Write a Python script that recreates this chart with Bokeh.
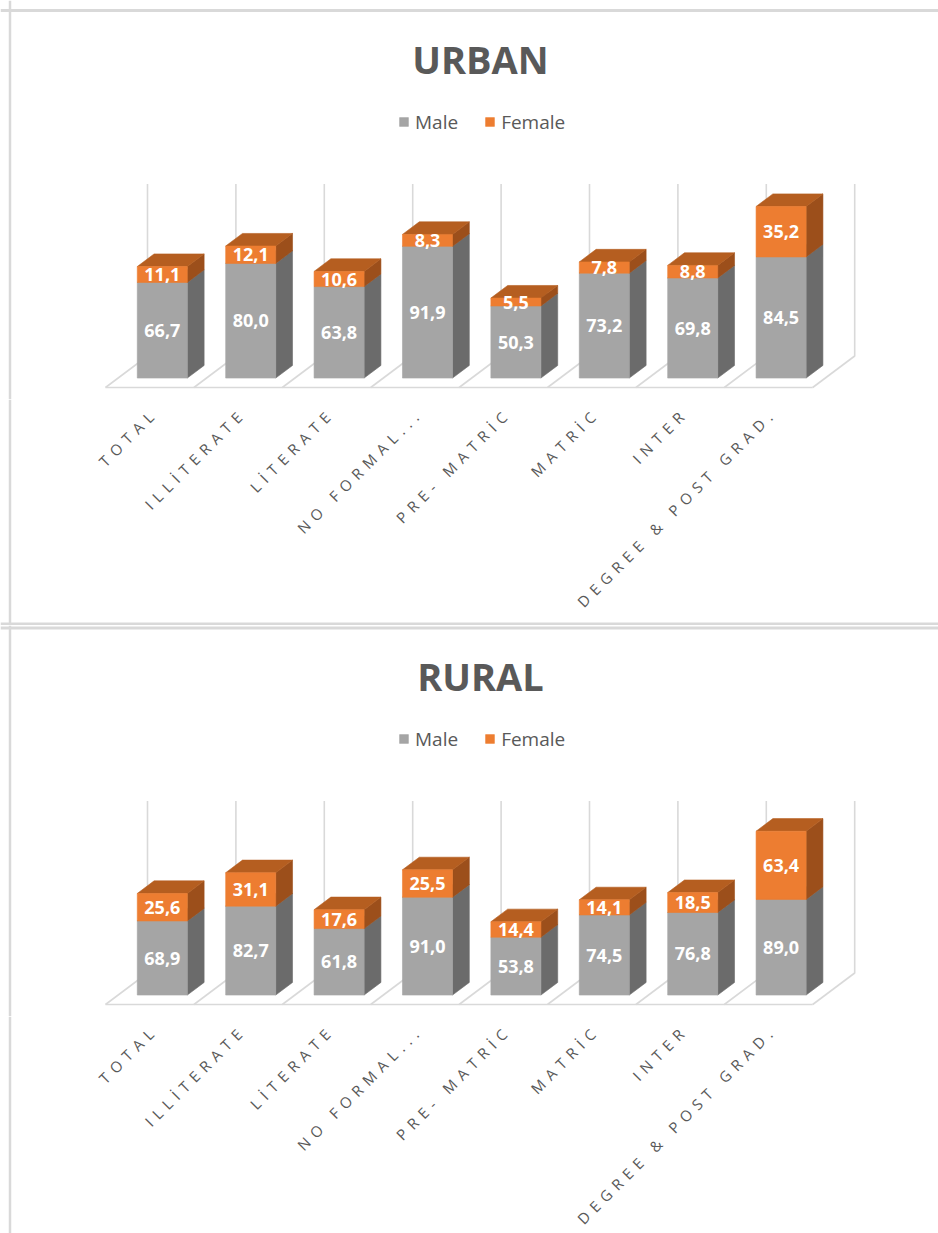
import math
from bokeh.plotting import figure
from bokeh.layouts import column
from bokeh.models import Range1d, ColumnDataSource, Label, Legend, LegendItem, Span
from bokeh.embed import file_html
from bokeh.resources import INLINE
from bokeh.core.properties import value

# ---------------- data ----------------
categories = ["TOTAL", "ILLİTERATE", "LİTERATE", "NO FORMAL...",
              "PRE- MATRİC", "MATRİC", "INTER", "DEGREE & POST GRAD."]
urban_male = [66.7, 80.0, 63.8, 91.9, 50.3, 73.2, 69.8, 84.5]
urban_female = [11.1, 12.1, 10.6, 8.3, 5.5, 7.8, 8.8, 35.2]
rural_male = [68.9, 82.7, 61.8, 91.0, 53.8, 74.5, 76.8, 89.0]
rural_female = [25.6, 31.1, 17.6, 25.5, 14.4, 14.1, 18.5, 63.4]
urban_axis_max = 120
rural_axis_max = 160
series_names = ["Male", "Female"]

# ---------------- style / layout ----------------
W = 938
CELL = 88.4        # px per category at the front of the floor
X0 = 105           # px from figure left to front-left floor corner
WALL = 172         # px height of the back wall (axis max)
FDX, FDY = 42.0, 31.5   # px depth offset of the floor
ZF, ZB = 0.3, 0.7       # bar depth extent (0 = front, 1 = back)
BH = 0.283              # half bar width in category units
FONT = "Open Sans"
TXT = "#595959"
GRID = "#D9D9D9"
LS = 6                  # letter spacing of category labels (px)
COS45 = math.cos(math.pi / 4)
COLORS = {
    "Male": {"front": "#A5A5A5", "side": "#6B6B6B", "top": "#7F7F7F"},
    "Female": {"front": "#ED7D31", "side": "#9C4F1B", "top": "#B55E20"},
}


def fmt(v):
    return f"{v:.1f}".replace(".", ",")


def base_fig(h, xr, yr):
    p = figure(width=W, height=h, x_range=xr, y_range=yr,
               output_backend="svg", toolbar_location=None,
               x_axis_type=None, y_axis_type=None, min_border=0, title=None)
    p.grid.visible = False
    p.outline_line_color = None
    p.background_fill_color = "white"
    p.border_fill_color = "white"
    return p


def make_panel(title, male, female, ymax, T, HA, HB, top_border, bottom_border):
    ppu = WALL / ymax
    n = len(categories)
    F = T + 377                    # floor front line (px from figure top)
    xr = Range1d(-X0 / CELL, (W - X0) / CELL)
    p = base_fig(HA, xr, Range1d(-(HA - F) / ppu, F / ppu))

    dx = FDX / CELL
    dy = FDY / ppu

    def proj(x, y, z):
        return x + z * dx, y + z * dy

    # floor + wall lines
    xs, ys = [], []
    for k in range(n + 1):
        xs.append([k, k + dx, k + dx])
        ys.append([0, dy, ymax + dy])
    xs.append([0, n])
    ys.append([0, 0])
    p.multi_line(xs, ys, line_color=GRID, line_width=1.6)

    # bars
    legend_r = {}
    for sname, vals, bases in (("Male", male, [0] * n),
                               ("Female", female, male)):
        faces = {"side": ([], []), "top": ([], []), "front": ([], [])}
        lx, ly, lt = [], [], []
        for i in range(n):
            c = i + 0.5
            x0, x1 = c - BH, c + BH
            y0 = bases[i]
            y1 = bases[i] + vals[i]
            pts = {
                "front": [proj(x0, y0, ZF), proj(x1, y0, ZF), proj(x1, y1, ZF), proj(x0, y1, ZF)],
                "side": [proj(x1, y0, ZF), proj(x1, y0, ZB), proj(x1, y1, ZB), proj(x1, y1, ZF)],
                "top": [proj(x0, y1, ZF), proj(x1, y1, ZF), proj(x1, y1, ZB), proj(x0, y1, ZB)],
            }
            for f, pl in pts.items():
                faces[f][0].append([q[0] for q in pl])
                faces[f][1].append([q[1] for q in pl])
            cx, cy = proj(c, (y0 + y1) / 2, ZF)
            lx.append(cx)
            ly.append(cy)
            lt.append(fmt(vals[i]))
        for f in ("side", "top", "front"):
            col = COLORS[sname][f]
            r = p.patches(faces[f][0], faces[f][1], fill_color=col,
                          line_color=col, line_width=0.6)
            if f == "front":
                legend_r[sname] = r
        src = ColumnDataSource(dict(x=lx, y=ly, t=lt))
        p.text("x", "y", text="t", source=src, text_color="white",
               text_font=value(FONT), text_font_style="bold",
               text_font_size="18px", text_align="center",
               text_baseline="middle")

    # title
    p.add_layout(Label(x=480, y=HA - (T + 48.5), x_units="screen", y_units="screen",
                       text=title, text_align="center", text_baseline="middle",
                       text_font=FONT, text_font_style="bold",
                       text_font_size="38px", text_color=TXT))

    # legend
    leg_c = T + 114.5
    leg = Legend(items=[LegendItem(label=s, renderers=[legend_r[s]]) for s in series_names],
                 orientation="horizontal", location=(398, HA - (leg_c + 10)),
                 padding=0, spacing=26, margin=0, glyph_width=11, glyph_height=11,
                 label_standoff=6, label_text_font=FONT, label_text_font_size="19px",
                 label_height=20, label_text_color=TXT, border_line_color=None,
                 background_fill_alpha=0)
    p.add_layout(leg)

    # panel borders (top figure)
    xr0 = -X0 / CELL
    ytop = F / ppu
    p.add_layout(Span(location=xr0 + 9.5 / CELL, dimension="height",
                      line_color=GRID, line_width=2.5))
    if top_border is not None:
        p.add_layout(Span(location=ytop - top_border / ppu, dimension="width",
                          line_color=GRID, line_width=3))

    # ---------- label strip ----------
    q = base_fig(HB, xr, Range1d(0, HB))
    q.styles = {"letter-spacing": f"{LS}px"}
    lab_y = HB - (F + 27 - HA)
    # shift each anchor back along the 45 deg text direction by the extra
    # width that the letter spacing adds (bokeh measures without it)
    extra = [(len(t) - 1) * LS for t in categories]
    csrc = ColumnDataSource(dict(
        x=[i + 0.5 + (1 - e * COS45) / CELL for i, e in enumerate(extra)],
        y=[lab_y - e * COS45 for e in extra],
        t=categories))
    q.text("x", "y", text="t", source=csrc, angle=math.pi / 4,
           text_color=TXT, text_font=value(FONT), text_font_size="15px",
           text_align="right", text_baseline="middle")
    q.add_layout(Span(location=xr0 + 9.5 / CELL, dimension="height",
                      line_color=GRID, line_width=2.5))
    if bottom_border is not None:
        q.add_layout(Span(location=bottom_border, dimension="width",
                          line_color=GRID, line_width=3))
    return [p, q]


panels = (make_panel("URBAN", urban_male, urban_female, urban_axis_max,
                     10, 399, 226, 10, 1.5)
          + make_panel("RURAL", rural_male, rural_female, rural_axis_max,
                       2, 391, 217, 2.5, None))

layout = column(*panels, spacing=0)
open("out.html", "w").write(file_html(layout, INLINE))
